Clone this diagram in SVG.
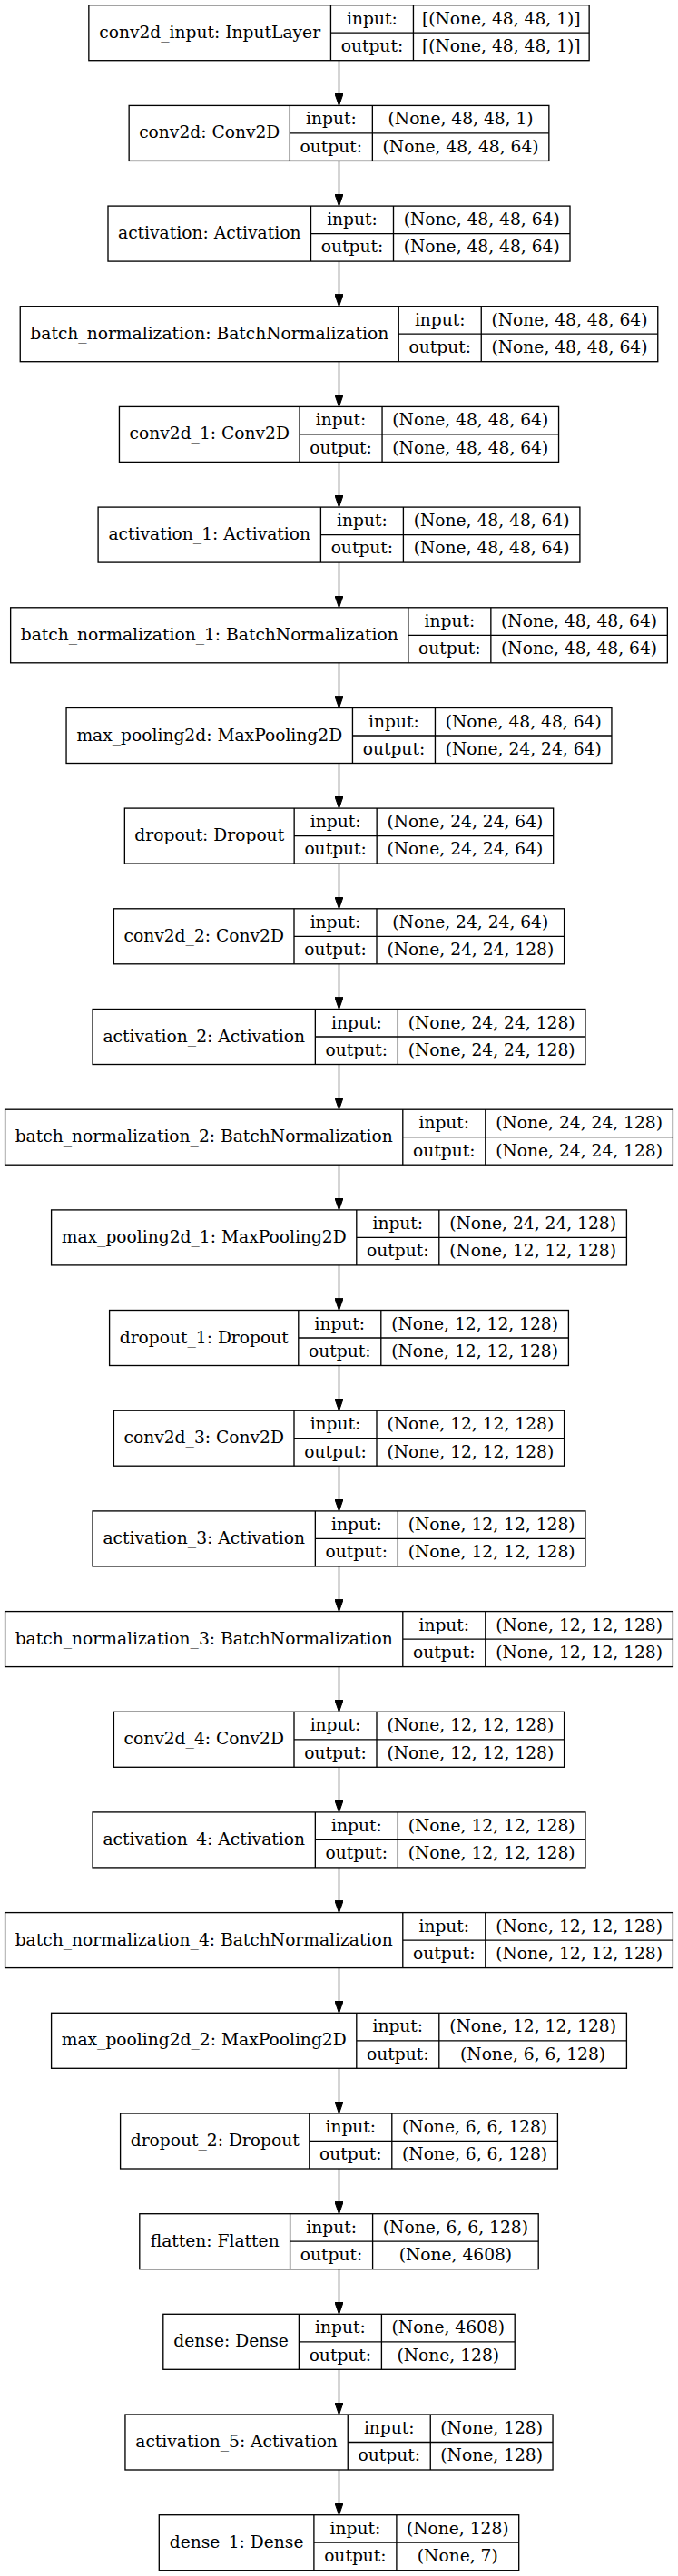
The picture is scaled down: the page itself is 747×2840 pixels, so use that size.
<svg xmlns="http://www.w3.org/2000/svg" width="747" height="2840" viewBox="0 0 747 2840">
<style>
.box{fill:none;stroke:#000;stroke-width:1.33}
.div{fill:none;stroke:#000;stroke-width:1.33}
text{font-family:"DejaVu Serif","Liberation Serif",serif;font-size:18.67px;fill:#000;text-anchor:middle}
.edge{stroke:#000;stroke-width:1.33;fill:none;marker-end:url(#arr)}
</style>
<defs>
<marker id="arr" markerUnits="userSpaceOnUse" viewBox="0 0 13.3 9.4" refX="12.3" refY="4.7" markerWidth="13.3" markerHeight="9.4" orient="auto">
<path d="M0,0 L13.3,4.7 L0,9.4 z" fill="#000" stroke="#000" stroke-width="1"/>
</marker>
</defs>
<rect x="0" y="0" width="747" height="2840" fill="#fff"/>
<g id="connectors">
<line class="edge" x1="373.5" y1="66.7" x2="373.5" y2="115.4"/>
<line class="edge" x1="373.5" y1="177.4" x2="373.5" y2="226.1"/>
<line class="edge" x1="373.5" y1="288.1" x2="373.5" y2="336.7"/>
<line class="edge" x1="373.5" y1="398.7" x2="373.5" y2="447.4"/>
<line class="edge" x1="373.5" y1="509.4" x2="373.5" y2="558.1"/>
<line class="edge" x1="373.5" y1="620.1" x2="373.5" y2="668.8"/>
<line class="edge" x1="373.5" y1="730.8" x2="373.5" y2="779.5"/>
<line class="edge" x1="373.5" y1="841.5" x2="373.5" y2="890.1"/>
<line class="edge" x1="373.5" y1="952.1" x2="373.5" y2="1000.8"/>
<line class="edge" x1="373.5" y1="1062.8" x2="373.5" y2="1111.5"/>
<line class="edge" x1="373.5" y1="1173.5" x2="373.5" y2="1222.2"/>
<line class="edge" x1="373.5" y1="1284.2" x2="373.5" y2="1332.9"/>
<line class="edge" x1="373.5" y1="1394.9" x2="373.5" y2="1443.5"/>
<line class="edge" x1="373.5" y1="1505.5" x2="373.5" y2="1554.2"/>
<line class="edge" x1="373.5" y1="1616.2" x2="373.5" y2="1664.9"/>
<line class="edge" x1="373.5" y1="1726.9" x2="373.5" y2="1775.6"/>
<line class="edge" x1="373.5" y1="1837.6" x2="373.5" y2="1886.3"/>
<line class="edge" x1="373.5" y1="1948.3" x2="373.5" y2="1996.9"/>
<line class="edge" x1="373.5" y1="2058.9" x2="373.5" y2="2107.6"/>
<line class="edge" x1="373.5" y1="2169.6" x2="373.5" y2="2218.3"/>
<line class="edge" x1="373.5" y1="2280.3" x2="373.5" y2="2329.0"/>
<line class="edge" x1="373.5" y1="2391.0" x2="373.5" y2="2439.7"/>
<line class="edge" x1="373.5" y1="2501.7" x2="373.5" y2="2550.3"/>
<line class="edge" x1="373.5" y1="2612.3" x2="373.5" y2="2661.0"/>
<line class="edge" x1="373.5" y1="2723.0" x2="373.5" y2="2771.7"/>
</g>
<g id="conv2d_input" transform="translate(0,5.7)">
<rect class="box" x="97.85" y="0" width="551.3" height="61"/>
<path class="div" d="M364.45,0V61M455.45,0V61M364.45,30.5H649.15"/>
<text x="231.15" y="36.1">conv2d_input: InputLayer</text>
<text x="409.95" y="21">input:</text><text x="409.95" y="51.4">output:</text>
<text x="552.3" y="21">[(None, 48, 48, 1)]</text><text x="552.3" y="51.4">[(None, 48, 48, 1)]</text>
</g>
<g id="conv2d" transform="translate(0,116.4)">
<rect class="box" x="142.15" y="0" width="462.7" height="61"/>
<path class="div" d="M319.35,0V61M410.35,0V61M319.35,30.5H604.85"/>
<text x="230.75" y="36.1">conv2d: Conv2D</text>
<text x="364.85" y="21">input:</text><text x="364.85" y="51.4">output:</text>
<text x="507.6" y="21">(None, 48, 48, 1)</text><text x="507.6" y="51.4">(None, 48, 48, 64)</text>
</g>
<g id="activation" transform="translate(0,227.1)">
<rect class="box" x="119" y="0" width="509" height="61"/>
<path class="div" d="M342.5,0V61M433.5,0V61M342.5,30.5H628"/>
<text x="230.75" y="36.1">activation: Activation</text>
<text x="388" y="21">input:</text><text x="388" y="51.4">output:</text>
<text x="530.75" y="21">(None, 48, 48, 64)</text><text x="530.75" y="51.4">(None, 48, 48, 64)</text>
</g>
<g id="batch_normalization" transform="translate(0,337.7)">
<rect class="box" x="22.25" y="0" width="702.5" height="61"/>
<path class="div" d="M439.25,0V61M530.25,0V61M439.25,30.5H724.75"/>
<text x="230.75" y="36.1">batch_normalization: BatchNormalization</text>
<text x="484.75" y="21">input:</text><text x="484.75" y="51.4">output:</text>
<text x="627.5" y="21">(None, 48, 48, 64)</text><text x="627.5" y="51.4">(None, 48, 48, 64)</text>
</g>
<g id="conv2d_1" transform="translate(0,448.4)">
<rect class="box" x="131.45" y="0" width="484.1" height="61"/>
<path class="div" d="M330.05,0V61M421.05,0V61M330.05,30.5H615.55"/>
<text x="230.75" y="36.1">conv2d_1: Conv2D</text>
<text x="375.55" y="21">input:</text><text x="375.55" y="51.4">output:</text>
<text x="518.3" y="21">(None, 48, 48, 64)</text><text x="518.3" y="51.4">(None, 48, 48, 64)</text>
</g>
<g id="activation_1" transform="translate(0,559.1)">
<rect class="box" x="108.1" y="0" width="530.8" height="61"/>
<path class="div" d="M353.4,0V61M444.4,0V61M353.4,30.5H638.9"/>
<text x="230.75" y="36.1">activation_1: Activation</text>
<text x="398.9" y="21">input:</text><text x="398.9" y="51.4">output:</text>
<text x="541.65" y="21">(None, 48, 48, 64)</text><text x="541.65" y="51.4">(None, 48, 48, 64)</text>
</g>
<g id="batch_normalization_1" transform="translate(0,669.8)">
<rect class="box" x="11.65" y="0" width="723.7" height="61"/>
<path class="div" d="M449.85,0V61M540.85,0V61M449.85,30.5H735.35"/>
<text x="230.75" y="36.1">batch_normalization_1: BatchNormalization</text>
<text x="495.35" y="21">input:</text><text x="495.35" y="51.4">output:</text>
<text x="638.1" y="21">(None, 48, 48, 64)</text><text x="638.1" y="51.4">(None, 48, 48, 64)</text>
</g>
<g id="max_pooling2d" transform="translate(0,780.5)">
<rect class="box" x="73.05" y="0" width="600.9" height="61"/>
<path class="div" d="M388.45,0V61M479.45,0V61M388.45,30.5H673.95"/>
<text x="230.75" y="36.1">max_pooling2d: MaxPooling2D</text>
<text x="433.95" y="21">input:</text><text x="433.95" y="51.4">output:</text>
<text x="576.7" y="21">(None, 48, 48, 64)</text><text x="576.7" y="51.4">(None, 24, 24, 64)</text>
</g>
<g id="dropout" transform="translate(0,891.1)">
<rect class="box" x="137.35" y="0" width="472.3" height="61"/>
<path class="div" d="M324.15,0V61M415.15,0V61M324.15,30.5H609.65"/>
<text x="230.75" y="36.1">dropout: Dropout</text>
<text x="369.65" y="21">input:</text><text x="369.65" y="51.4">output:</text>
<text x="512.4" y="21">(None, 24, 24, 64)</text><text x="512.4" y="51.4">(None, 24, 24, 64)</text>
</g>
<g id="conv2d_2" transform="translate(0,1001.8)">
<rect class="box" x="125.4" y="0" width="496.2" height="61"/>
<path class="div" d="M324,0V61M415,0V61M324,30.5H621.6"/>
<text x="224.7" y="36.1">conv2d_2: Conv2D</text>
<text x="369.5" y="21">input:</text><text x="369.5" y="51.4">output:</text>
<text x="518.3" y="21">(None, 24, 24, 64)</text><text x="518.3" y="51.4">(None, 24, 24, 128)</text>
</g>
<g id="activation_2" transform="translate(0,1112.5)">
<rect class="box" x="102.05" y="0" width="542.9" height="61"/>
<path class="div" d="M347.35,0V61M438.35,0V61M347.35,30.5H644.95"/>
<text x="224.7" y="36.1">activation_2: Activation</text>
<text x="392.85" y="21">input:</text><text x="392.85" y="51.4">output:</text>
<text x="541.65" y="21">(None, 24, 24, 128)</text><text x="541.65" y="51.4">(None, 24, 24, 128)</text>
</g>
<g id="batch_normalization_2" transform="translate(0,1223.2)">
<rect class="box" x="5.6" y="0" width="735.8" height="61"/>
<path class="div" d="M443.8,0V61M534.8,0V61M443.8,30.5H741.4"/>
<text x="224.7" y="36.1">batch_normalization_2: BatchNormalization</text>
<text x="489.3" y="21">input:</text><text x="489.3" y="51.4">output:</text>
<text x="638.1" y="21">(None, 24, 24, 128)</text><text x="638.1" y="51.4">(None, 24, 24, 128)</text>
</g>
<g id="max_pooling2d_1" transform="translate(0,1333.9)">
<rect class="box" x="56.6" y="0" width="633.8" height="61"/>
<path class="div" d="M392.8,0V61M483.8,0V61M392.8,30.5H690.4"/>
<text x="224.7" y="36.1">max_pooling2d_1: MaxPooling2D</text>
<text x="438.3" y="21">input:</text><text x="438.3" y="51.4">output:</text>
<text x="587.1" y="21">(None, 24, 24, 128)</text><text x="587.1" y="51.4">(None, 12, 12, 128)</text>
</g>
<g id="dropout_1" transform="translate(0,1444.5)">
<rect class="box" x="120.6" y="0" width="505.8" height="61"/>
<path class="div" d="M328.8,0V61M419.8,0V61M328.8,30.5H626.4"/>
<text x="224.7" y="36.1">dropout_1: Dropout</text>
<text x="374.3" y="21">input:</text><text x="374.3" y="51.4">output:</text>
<text x="523.1" y="21">(None, 12, 12, 128)</text><text x="523.1" y="51.4">(None, 12, 12, 128)</text>
</g>
<g id="conv2d_3" transform="translate(0,1555.2)">
<rect class="box" x="125.4" y="0" width="496.2" height="61"/>
<path class="div" d="M324,0V61M415,0V61M324,30.5H621.6"/>
<text x="224.7" y="36.1">conv2d_3: Conv2D</text>
<text x="369.5" y="21">input:</text><text x="369.5" y="51.4">output:</text>
<text x="518.3" y="21">(None, 12, 12, 128)</text><text x="518.3" y="51.4">(None, 12, 12, 128)</text>
</g>
<g id="activation_3" transform="translate(0,1665.9)">
<rect class="box" x="102.05" y="0" width="542.9" height="61"/>
<path class="div" d="M347.35,0V61M438.35,0V61M347.35,30.5H644.95"/>
<text x="224.7" y="36.1">activation_3: Activation</text>
<text x="392.85" y="21">input:</text><text x="392.85" y="51.4">output:</text>
<text x="541.65" y="21">(None, 12, 12, 128)</text><text x="541.65" y="51.4">(None, 12, 12, 128)</text>
</g>
<g id="batch_normalization_3" transform="translate(0,1776.6)">
<rect class="box" x="5.6" y="0" width="735.8" height="61"/>
<path class="div" d="M443.8,0V61M534.8,0V61M443.8,30.5H741.4"/>
<text x="224.7" y="36.1">batch_normalization_3: BatchNormalization</text>
<text x="489.3" y="21">input:</text><text x="489.3" y="51.4">output:</text>
<text x="638.1" y="21">(None, 12, 12, 128)</text><text x="638.1" y="51.4">(None, 12, 12, 128)</text>
</g>
<g id="conv2d_4" transform="translate(0,1887.3)">
<rect class="box" x="125.4" y="0" width="496.2" height="61"/>
<path class="div" d="M324,0V61M415,0V61M324,30.5H621.6"/>
<text x="224.7" y="36.1">conv2d_4: Conv2D</text>
<text x="369.5" y="21">input:</text><text x="369.5" y="51.4">output:</text>
<text x="518.3" y="21">(None, 12, 12, 128)</text><text x="518.3" y="51.4">(None, 12, 12, 128)</text>
</g>
<g id="activation_4" transform="translate(0,1997.9)">
<rect class="box" x="102.05" y="0" width="542.9" height="61"/>
<path class="div" d="M347.35,0V61M438.35,0V61M347.35,30.5H644.95"/>
<text x="224.7" y="36.1">activation_4: Activation</text>
<text x="392.85" y="21">input:</text><text x="392.85" y="51.4">output:</text>
<text x="541.65" y="21">(None, 12, 12, 128)</text><text x="541.65" y="51.4">(None, 12, 12, 128)</text>
</g>
<g id="batch_normalization_4" transform="translate(0,2108.6)">
<rect class="box" x="5.6" y="0" width="735.8" height="61"/>
<path class="div" d="M443.8,0V61M534.8,0V61M443.8,30.5H741.4"/>
<text x="224.7" y="36.1">batch_normalization_4: BatchNormalization</text>
<text x="489.3" y="21">input:</text><text x="489.3" y="51.4">output:</text>
<text x="638.1" y="21">(None, 12, 12, 128)</text><text x="638.1" y="51.4">(None, 12, 12, 128)</text>
</g>
<g id="max_pooling2d_2" transform="translate(0,2219.3)">
<rect class="box" x="56.6" y="0" width="633.8" height="61"/>
<path class="div" d="M392.8,0V61M483.8,0V61M392.8,30.5H690.4"/>
<text x="224.7" y="36.1">max_pooling2d_2: MaxPooling2D</text>
<text x="438.3" y="21">input:</text><text x="438.3" y="51.4">output:</text>
<text x="587.1" y="21">(None, 12, 12, 128)</text><text x="587.1" y="51.4">(None, 6, 6, 128)</text>
</g>
<g id="dropout_2" transform="translate(0,2330)">
<rect class="box" x="132.6" y="0" width="481.8" height="61"/>
<path class="div" d="M340.8,0V61M431.8,0V61M340.8,30.5H614.4"/>
<text x="236.7" y="36.1">dropout_2: Dropout</text>
<text x="386.3" y="21">input:</text><text x="386.3" y="51.4">output:</text>
<text x="523.1" y="21">(None, 6, 6, 128)</text><text x="523.1" y="51.4">(None, 6, 6, 128)</text>
</g>
<g id="flatten" transform="translate(0,2440.7)">
<rect class="box" x="153.8" y="0" width="439.4" height="61"/>
<path class="div" d="M319.6,0V61M410.6,0V61M319.6,30.5H593.2"/>
<text x="236.7" y="36.1">flatten: Flatten</text>
<text x="365.1" y="21">input:</text><text x="365.1" y="51.4">output:</text>
<text x="501.9" y="21">(None, 6, 6, 128)</text><text x="501.9" y="51.4">(None, 4608)</text>
</g>
<g id="dense" transform="translate(0,2551.3)">
<rect class="box" x="179.8" y="0" width="387.4" height="61"/>
<path class="div" d="M329.4,0V61M420.4,0V61M329.4,30.5H567.2"/>
<text x="254.6" y="36.1">dense: Dense</text>
<text x="374.9" y="21">input:</text><text x="374.9" y="51.4">output:</text>
<text x="493.8" y="21">(None, 4608)</text><text x="493.8" y="51.4">(None, 128)</text>
</g>
<g id="activation_5" transform="translate(0,2662)">
<rect class="box" x="137.95" y="0" width="471.1" height="61"/>
<path class="div" d="M383.25,0V61M474.25,0V61M383.25,30.5H609.05"/>
<text x="260.6" y="36.1">activation_5: Activation</text>
<text x="428.75" y="21">input:</text><text x="428.75" y="51.4">output:</text>
<text x="541.65" y="21">(None, 128)</text><text x="541.65" y="51.4">(None, 128)</text>
</g>
<g id="dense_1" transform="translate(0,2772.7)">
<rect class="box" x="175.3" y="0" width="396.4" height="61"/>
<path class="div" d="M345.9,0V61M436.9,0V61M345.9,30.5H571.7"/>
<text x="260.6" y="36.1">dense_1: Dense</text>
<text x="391.4" y="21">input:</text><text x="391.4" y="51.4">output:</text>
<text x="504.3" y="21">(None, 128)</text><text x="504.3" y="51.4">(None, 7)</text>
</g>
</svg>
